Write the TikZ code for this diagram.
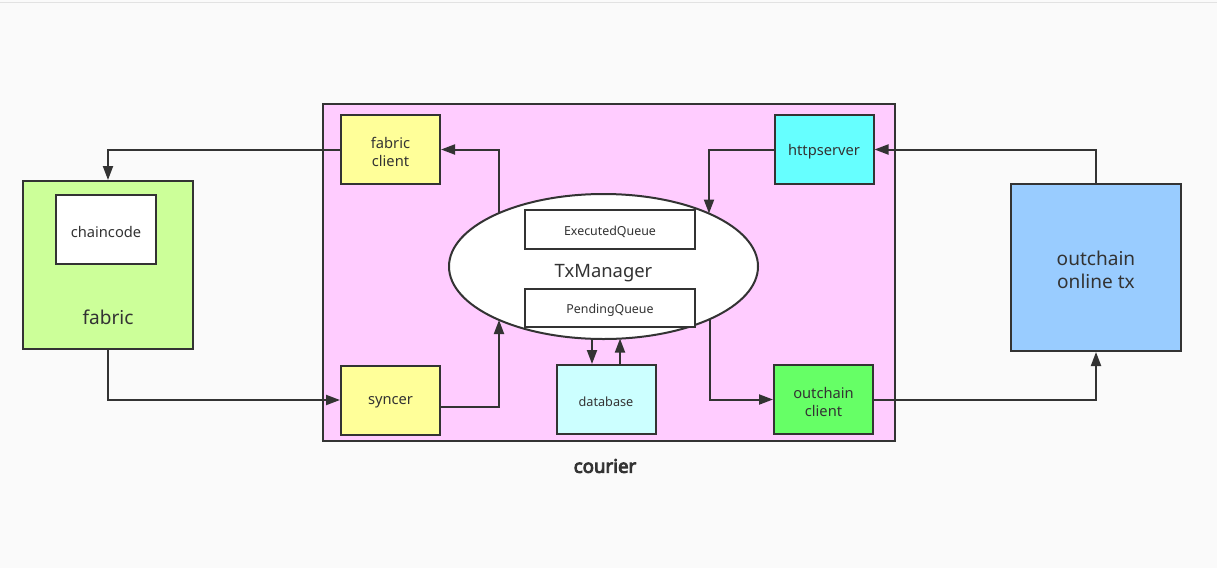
\documentclass[tikz,border=0pt]{standalone}
\usepackage{fontspec}
\setmainfont{Noto Sans}
\newfontfamily\courierfont{Noto Sans}[FakeBold=4.5]
\usetikzlibrary{arrows.meta,shapes.geometric}
\newcommand\dnA[1]{\raisebox{-1.9pt}[\height][\depth]{#1}}
\newcommand\dnB[1]{\raisebox{-4.8pt}[\height][\depth]{#1}}
\definecolor{ln}{HTML}{333333}
\definecolor{txt}{HTML}{333333}
\definecolor{bgc}{HTML}{FAFAFA}
\definecolor{topc}{HTML}{E2E2E2}
\definecolor{pink}{HTML}{FFCCFF}
\definecolor{yel}{HTML}{FFFF99}
\definecolor{cyanb}{HTML}{66FFFF}
\definecolor{cyanl}{HTML}{CCFFFF}
\definecolor{grn}{HTML}{66FF66}
\definecolor{lgrn}{HTML}{CCFF99}
\definecolor{blu}{HTML}{99CCFF}
\begin{document}
\begin{tikzpicture}[x=0.75pt,y=-0.75pt,
  box/.style={draw=ln,line width=1.5pt,inner sep=0pt,align=center,text=txt},
  smallbox/.style={box,minimum width=74.25pt,minimum height=51.75pt},
  bigbox/.style={box,minimum width=127.5pt,minimum height=126pt},
  qbox/.style={box,fill=white,minimum width=127.5pt,minimum height=29pt,font=\fontsize{9.3}{11}\selectfont},
  fmid/.style={font=\fontsize{11}{13}\selectfont},
  fbig/.style={font=\fontsize{14.3}{17.6}\selectfont},
  conn/.style={draw=ln,line width=1.5pt,-{Triangle[length=10.5pt,width=7.5pt]}},
  plain/.style={draw=ln,line width=1.5pt}]
\fill[bgc] (0,0) rectangle (1217,568);
\useasboundingbox (0,0) rectangle (1217,568);
\draw[topc,line width=0.75pt] (0,2.5) -- (1217,2.5);

% courier container
\node[box,fill=pink,minimum width=429pt,minimum height=252.75pt] (courier) at (609,272.5) {};
\node[text=txt,font=\courierfont\fontsize{14}{16}\selectfont] (courierlabel) at (605,466) {courier};

% inner boxes
\node[smallbox,fill=yel,fmid] (fabricclient) at (390.5,149.5) {\dnA{fabric}\\\dnA{client}};
\node[smallbox,fill=cyanb,fmid] (httpserver) at (824,149.5) {\dnA{httpserver}};
\node[smallbox,fill=yel,fmid] (syncer) at (390.5,400) {\dnA{syncer}};
\node[smallbox,fill=cyanl,font=\fontsize{9.5}{11}\selectfont] (database) at (606,399.5) {\dnA{database}};
\node[smallbox,fill=grn,fmid] (outchainclient) at (823.5,399.5) {\dnA{outchain}\\\dnA{client}};

% TxManager
\node[ellipse,draw=ln,line width=1.5pt,fill=white,inner sep=0pt,minimum width=231.75pt,minimum height=108.75pt,text=txt,font=\fontsize{13.8}{16}\selectfont] (txm) at (603.5,266.5) {\dnB{TxManager}};
\node[qbox] (executed) at (610,229.5) {\dnA{ExecutedQueue}};
\node[qbox] (pending) at (610,308) {\dnA{PendingQueue}};

% outside boxes
\node[bigbox,fill=lgrn] (fabric) at (108,265) {};
\node[box,fill=white,minimum width=75pt,minimum height=51.75pt,fmid] (chaincode) at (106,229.5) {\dnA{chaincode}};
\node[text=txt,fbig] (fabriclabel) at (108,317) {fabric};
\node[bigbox,fill=blu,minimum height=125.25pt,fbig] (outchain) at (1096,267.5) {\dnA{outchain}\\\dnA{online tx}};

% points on the ellipse border
\coordinate (tA) at (499,320);
\coordinate (tB) at (499,213);
\coordinate (tC) at (709,213.5);
\coordinate (tD) at (710,319.5);
\coordinate (tE) at (592,338.8);
\coordinate (tF) at (620,338.6);

% connectors
\draw[conn] (fabricclient.west) -| (fabric.north);
\draw[conn] (fabric.south) |- (syncer.west);
\draw[conn] ([yshift=-5.25pt]syncer.east) -| (tA);
\draw[conn] (tB) |- (fabricclient.east);
\draw[conn] (httpserver.west) -| (tC);
\draw[conn] (outchain.north) |- (httpserver.east);
\draw[conn] (tD) |- (outchainclient.west);
\draw[conn] (outchainclient.east) -| (outchain.south);
\draw[conn] (tE) -- (tE |- database.north);
\draw[conn] (tF |- database.north) -- (tF);
\end{tikzpicture}
\end{document}
